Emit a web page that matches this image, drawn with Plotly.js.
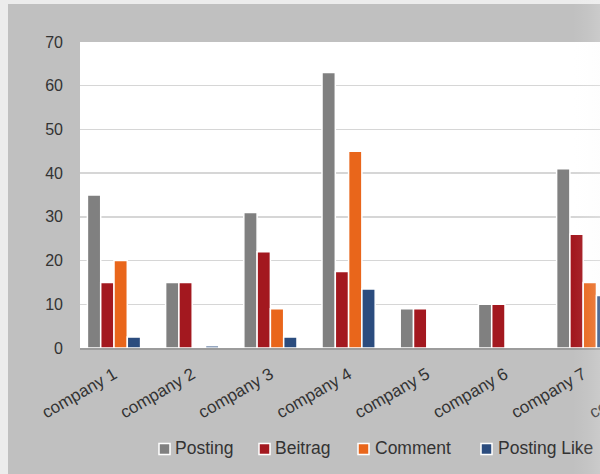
<!DOCTYPE html>
<html>
<head>
<meta charset="utf-8">
<script src="https://cdn.plot.ly/plotly-3.0.1.min.js"></script>
<style>
  html, body { margin: 0; padding: 0; width: 600px; height: 474px; overflow: hidden; background: #ececec; }
  #chart { position: absolute; left: 8px; top: 4px; width: 692px; height: 470px; }
  #edge { position: absolute; left: 573px; top: 0; width: 27px; height: 474px; pointer-events: none;
          background: linear-gradient(to right, rgba(246,246,246,0) 0px, rgba(246,246,246,0.08) 14px, rgba(246,246,246,0.2) 27px); }
</style>
</head>
<body>
<div id="chart"></div>
<div id="edge"></div>
<script>
// Activity counts per company
const categories  = ['company 1', 'company 2', 'company 3', 'company 4', 'company 5', 'company 6', 'company 7', 'company 8'];
const seriesNames = ['Posting', 'Beitrag', 'Comment', 'Posting Like'];
const posting     = [35, 15, 31, 63, 9, 10, 41, null];
const beitrag     = [15, 15, 22, 17.5, 9, 10, 26, null];
const comment     = [20, 0, 9, 45, 0, 0, 15, null];
const postingLike = [2.5, 0.5, 2.5, 13.5, 0, 0, 12, null];
const yTicks      = [0, 10, 20, 30, 40, 50, 60, 70];

const seriesValues = [posting, beitrag, comment, postingLike];
const seriesColors = ['#808080', '#a3181f', '#e9661b', '#2b4c7e'];

const traces = seriesValues.map((vals, i) => ({
  type: 'bar',
  name: seriesNames[i],
  x: categories,
  y: vals,
  marker: { color: seriesColors[i], line: { color: '#ffffff', width: 1.5 } },
  showlegend: false,
  hoverinfo: 'skip'
}));

// Plot-area geometry inside the page (pixels)
const plotLeft = 80, plotRight = 700, plotTop = 42, plotBottom = 348;
const px2x = p => (p - plotLeft) / (plotRight - plotLeft);
const px2y = p => (plotBottom - p) / (plotBottom - plotTop);

// Legend row: coloured squares followed by their labels
const legendMarks = [159, 259, 358, 481];
const legendTexts = [173, 273, 373, 496];
const legendY = 449;
const shapes = seriesNames.map((n, i) => ({
  type: 'rect', xref: 'paper', yref: 'paper',
  x0: px2x(legendMarks[i]), x1: px2x(legendMarks[i] + 11),
  y0: px2y(legendY + 5.5), y1: px2y(legendY - 5.5),
  fillcolor: seriesColors[i], line: { color: '#ffffff', width: 1.5 }
}));
const annotations = seriesNames.map((n, i) => ({
  xref: 'paper', yref: 'paper', x: px2x(legendTexts[i]), y: px2y(legendY - 1),
  xanchor: 'left', yanchor: 'middle', showarrow: false, text: n,
  font: { family: 'Liberation Sans, Arial, sans-serif', size: 17.5, color: '#333333' }
}));

const layout = {
  width: 692, height: 470,
  margin: { l: 72, r: 0, t: 38, b: 126, pad: 0 },
  paper_bgcolor: '#c0c0c0',
  plot_bgcolor: '#ffffff',
  barmode: 'group',
  bargap: 0.32,
  bargroupgap: 0,
  font: { family: 'Liberation Sans, Arial, sans-serif', size: 16, color: '#333333' },
  xaxis: {
    type: 'category',
    range: [(plotLeft - 114) / 78.2, (plotRight - 114) / 78.2],
    tickangle: -30,
    tickfont: { size: 17, color: '#333333' },
    ticks: '',
    ticklabelstandoff: 8,
    showgrid: false,
    showline: true, linecolor: '#9c9c9c', linewidth: 2,
    zeroline: false, fixedrange: true
  },
  yaxis: {
    range: [0, 70],
    tickvals: yTicks,
    tickfont: { size: 16, color: '#333333' },
    ticks: '',
    ticklabelstandoff: 16,
    showgrid: true, gridcolor: '#d6d6d6', gridwidth: 1.5,
    showline: false, zeroline: false, fixedrange: true
  },
  shapes: shapes,
  annotations: annotations
};

Plotly.newPlot('chart', traces, layout, { staticPlot: true, displayModeBar: false });
</script>
</body>
</html>
